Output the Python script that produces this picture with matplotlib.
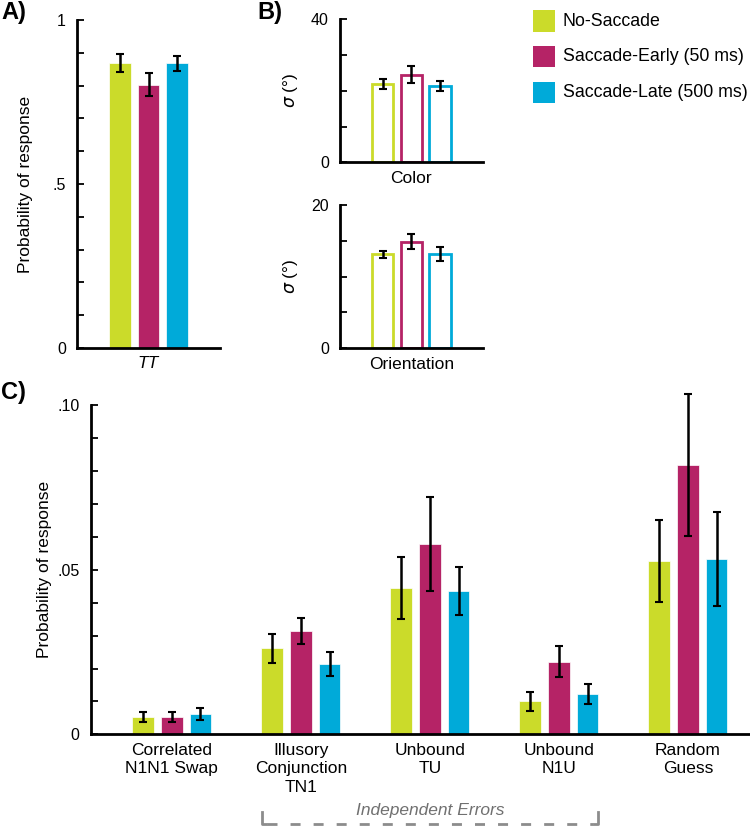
import numpy as np
import matplotlib
matplotlib.use('Agg')
from matplotlib import pyplot as plt

plt.rcParams['font.family'] = ['Liberation Sans', 'DejaVu Sans']

# conditions and colours
conditions = ['No-Saccade', 'Saccade-Early (50 ms)', 'Saccade-Late (500 ms)']
colors = ['#CBDB2A', '#B52366', '#00AAD9']

# panel A: target response probability
tt_mean = [0.868, 0.803, 0.868]
tt_err = [0.027, 0.034, 0.023]

# panel B: precision (sigma, degrees)
color_sd = [22.0, 24.5, 21.3]
color_err = [1.4, 2.4, 1.4]
orient_sd = [13.1, 14.9, 13.2]
orient_err = [0.5, 1.0, 1.0]

# panel C: error types
error_types = ['Correlated\nN1N1 Swap', 'Illusory\nConjunction\nTN1',
               'Unbound\nTU', 'Unbound\nN1U', 'Random\nGuess']
err_mean = np.array([
    [0.0052, 0.0261, 0.0444, 0.0100, 0.0527],
    [0.0052, 0.0314, 0.0578, 0.0221, 0.0818],
    [0.0062, 0.0213, 0.0435, 0.0122, 0.0532],
])
err_sem = np.array([
    [0.0016, 0.0043, 0.0094, 0.0029, 0.0125],
    [0.0015, 0.0040, 0.0142, 0.0047, 0.0215],
    [0.0018, 0.0036, 0.0073, 0.0030, 0.0143],
])

fig = plt.figure(figsize=(7.5, 8.26), dpi=100)

offsets = np.array([-1, 0, 1])
bw = 0.75


def style_axis(ax, top, step, labels):
    ax.spines['top'].set_visible(False)
    ax.spines['right'].set_visible(False)
    ax.spines['left'].set_linewidth(2)
    ax.spines['bottom'].set_linewidth(2)
    ax.spines['left'].set_bounds(0, top)
    ticks = np.arange(0, top + step / 2, step)
    ax.set_yticks(ticks)
    ax.set_yticklabels([labels.get(round(t, 4), '') for t in ticks])
    ax.tick_params(axis='y', direction='in', length=5, width=1.3, labelsize=11.5, pad=8)
    ax.tick_params(axis='x', length=0, labelsize=12.5, pad=6)


# --- A ---
axA = fig.add_axes([0.1027, 0.5787, 0.1907, 0.3971])
for i in range(3):
    axA.bar(offsets[i], tt_mean[i], bw, color=colors[i], edgecolor='white', linewidth=0.5)
    axA.errorbar(offsets[i], tt_mean[i], yerr=tt_err[i], color='black', capsize=3, elinewidth=1.8, capthick=1.5)
axA.set_xlim(-2.5, 2.5)
axA.set_ylim(0, 1.0)
style_axis(axA, 1.0, 0.1, {0.0: '0', 0.5: '.5', 1.0: '1'})
axA.set_xticks([0])
axA.set_xticklabels(['TT'], style='italic')
axA.set_ylabel('Probability of response', fontsize=12.5, labelpad=14)

# --- B ---
axB1 = fig.add_axes([0.4533, 0.8035, 0.1903, 0.1731])
axB2 = fig.add_axes([0.4533, 0.5783, 0.1903, 0.1735])
for ax, vals, errs, top, step, name in [(axB1, color_sd, color_err, 40, 10, 'Color'),
                                         (axB2, orient_sd, orient_err, 20, 5, 'Orientation')]:
    for i in range(3):
        ax.bar(offsets[i], vals[i], bw, facecolor='white', edgecolor=colors[i], linewidth=2)
        ax.errorbar(offsets[i], vals[i], yerr=errs[i], color='black', capsize=3, elinewidth=1.8, capthick=1.5)
    ax.set_xlim(-2.5, 2.5)
    ax.set_ylim(0, top)
    style_axis(ax, top, step, {0.0: '0', float(top): str(top)})
    ax.set_xticks([0])
    ax.set_xticklabels([name])
    ax.set_ylabel(r'$\sigma$ (°)', fontsize=12.5, labelpad=8)

# --- C ---
axC = fig.add_axes([0.1209, 0.1110, 0.8777, 0.3983])
centers = np.arange(len(error_types)) * 4.5
for i in range(3):
    axC.bar(centers + offsets[i], err_mean[i], bw, color=colors[i], edgecolor='white', linewidth=0.5)
    axC.errorbar(centers + offsets[i], err_mean[i], yerr=err_sem[i], fmt='none', ecolor='black',
                 capsize=3, elinewidth=1.8, capthick=1.5)
axC.set_xlim(-2.83, 4 * 4.5 + 2.13)
axC.set_ylim(0, 0.1)
style_axis(axC, 0.1, 0.01, {0.0: '0', 0.05: '.05', 0.1: '.10'})
axC.set_xticks(centers)
axC.set_xticklabels(error_types, linespacing=1.3)
axC.set_ylabel('Probability of response', fontsize=12.5, labelpad=4)
for coll in axC.collections + axC.lines:
    coll.set_clip_on(False)

# bracket for independent errors
xl, xr = 261.7 / 750, 598.3 / 750
ytop, ybot = 1 - 811.7 / 826, 1 - 823.5 / 826
gray = '#8c8c8c'
fig.add_artist(plt.Line2D([xl + 5 / 750, xr - 5 / 750], [ybot, ybot], color=gray,
                          linewidth=2, linestyle=(0, (3.6, 4.7))))
fig.add_artist(plt.Line2D([xl, xl, xl + 4 / 750], [ytop, ybot, ybot], color=gray, linewidth=2))
fig.add_artist(plt.Line2D([xr, xr, xr - 4 / 750], [ytop, ybot, ybot], color=gray, linewidth=2))
fig.text(430 / 750, 1 - 811 / 826, 'Independent Errors', ha='center', va='center',
         style='italic', color='#707070', fontsize=12.5)

# panel letters
fig.text(0.002, 1 - 12 / 826, 'A)', fontsize=17, fontweight='bold', va='center')
fig.text(257 / 750, 1 - 12 / 826, 'B)', fontsize=17, fontweight='bold', va='center')
fig.text(0.002, 1 - 393 / 826, 'C)', fontsize=17, fontweight='bold', va='center')

# legend
for i, name in enumerate(conditions):
    y = 21 + i * 35.6
    fig.patches.append(matplotlib.patches.Rectangle((533 / 750, 1 - (y + 10.5) / 826), 22 / 750, 21 / 826,
                                                    transform=fig.transFigure, facecolor=colors[i],
                                                    edgecolor='none'))
    fig.text(562.7 / 750, 1 - y / 826, name, fontsize=12.8, va='center')

fig.savefig('out.png', dpi=100)
